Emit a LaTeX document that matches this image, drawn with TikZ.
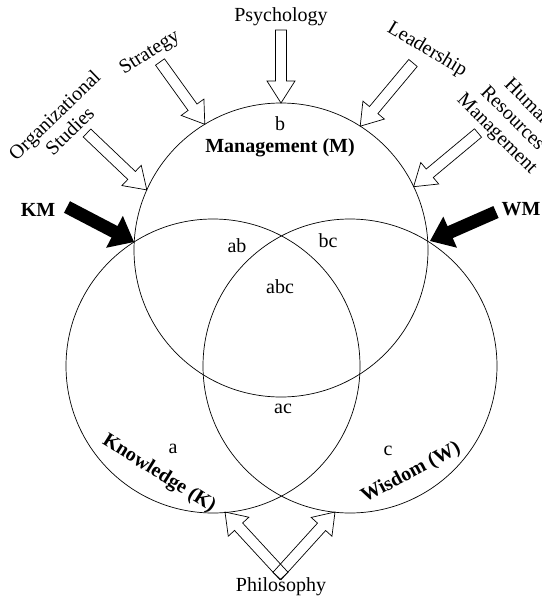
\documentclass[tikz,border=0pt]{standalone}
\usepackage{fontspec}
\setmainfont{Liberation Serif}
\usetikzlibrary{calc}

% Block arrow from tail #2 to tip #3:
% #4 half shaft width, #5 half head width, #6 head length
\newcommand\blockarrow[6]{%
  \path[#1] ($(#2)!#4!-90:(#3)$)
    -- ($(#3)!#6!(#2)!#4!90:(#2)$)
    -- ($(#3)!#6!(#2)!#5!90:(#2)$)
    -- (#3)
    -- ($(#3)!#6!(#2)!#5!-90:(#2)$)
    -- ($(#3)!#6!(#2)!#4!-90:(#2)$)
    -- ($(#2)!#4!90:(#3)$) -- cycle;}

\begin{document}
\begin{tikzpicture}[x=1pt,y=-1pt,
  lbl/.style={font=\fontsize{20}{22}\selectfont, inner sep=0pt},
  boldlbl/.style={font=\fontsize{20}{22}\selectfont\bfseries, inner sep=0pt},
  ring/.style={draw, line width=0.7pt},
  hollow/.style={draw, line width=0.7pt, line join=miter},
  blackarrow/.style={fill=black}]

\clip (0,0) rectangle (541,599);

% the three sets
\coordinate (cM) at (281,250);
\coordinate (cK) at (213,366);
\coordinate (cW) at (350,366);
\draw[ring] (cM) circle[radius=147pt];
\draw[ring] (cK) circle[radius=147pt];
\draw[ring] (cW) circle[radius=147pt];

% region labels
\node[lbl] (b) at (280,124) {b};
\node[boldlbl] (mgmt) at (280,148) {Management (M)};
\node[lbl] (ab) at (237,246) {ab};
\node[lbl] (bc) at (328,241) {bc};
\node[lbl] (abc) at (280,287) {abc};
\node[lbl] (ac) at (283,409) {ac};
\node[lbl] (a) at (173,449) {a};
\node[boldlbl, rotate=-32] (know) at (159,474) {Knowledge (K)};
\node[lbl] (c) at (388,451) {c};
\node[boldlbl, rotate=28] (wis) at (411,473) {Wisdom (W)};

% feeding disciplines
\node[lbl] (psy) at (281,17) {Psychology};
\node[lbl, rotate=32] (strat) at (150,53) {Strategy};
\node[lbl, rotate=44, align=center] (org) at (62,123) {Organizational\\Studies};
\node[lbl, rotate=-31] (lead) at (427,50) {Leadership};
\node[lbl, rotate=-45, align=center] (hrm) at (512,119) {Human\\Resources\\Management};
\node[boldlbl] (km) at (38,210) {KM};
\node[boldlbl] (wm) at (521,209) {WM};
\node[lbl] (phil) at (281,587) {Philosophy};

% arrow ends
\coordinate (psyT) at (281,30);   \coordinate (psyH) at (281,103);
\coordinate (strT) at (160,62);   \coordinate (strH) at (204.8,124.3);
\coordinate (orgT) at (87,133);   \coordinate (orgH) at (146.8,189.9);
\coordinate (leaT) at (413,63);   \coordinate (leaH) at (360.2,126.2);
\coordinate (hrmT) at (478,133);  \coordinate (hrmH) at (413.6,186.7);
\coordinate (kmT) at (67,207);    \coordinate (kmH) at (134,242);
\coordinate (wmT) at (496,212);   \coordinate (wmH) at (430,241);
\coordinate (phlT) at (284,576);  \coordinate (phlH) at (225,512);
\coordinate (phrT) at (277,576);  \coordinate (phrH) at (335,512);

\blockarrow{hollow}{psyT}{psyH}{5.5pt}{14pt}{22pt}
\blockarrow{hollow}{strT}{strH}{5.5pt}{14pt}{21pt}
\blockarrow{hollow}{orgT}{orgH}{5.5pt}{14pt}{21pt}
\blockarrow{hollow}{leaT}{leaH}{5.5pt}{14pt}{21pt}
\blockarrow{hollow}{hrmT}{hrmH}{5.5pt}{14pt}{21pt}
\blockarrow{hollow}{phlT}{phlH}{5.5pt}{14pt}{20pt}
\blockarrow{hollow}{phrT}{phrH}{5.5pt}{14pt}{20pt}
\blockarrow{blackarrow}{kmT}{kmH}{6.5pt}{18pt}{22pt}
\blockarrow{blackarrow}{wmT}{wmH}{6.5pt}{17pt}{22pt}

\end{tikzpicture}
\end{document}
